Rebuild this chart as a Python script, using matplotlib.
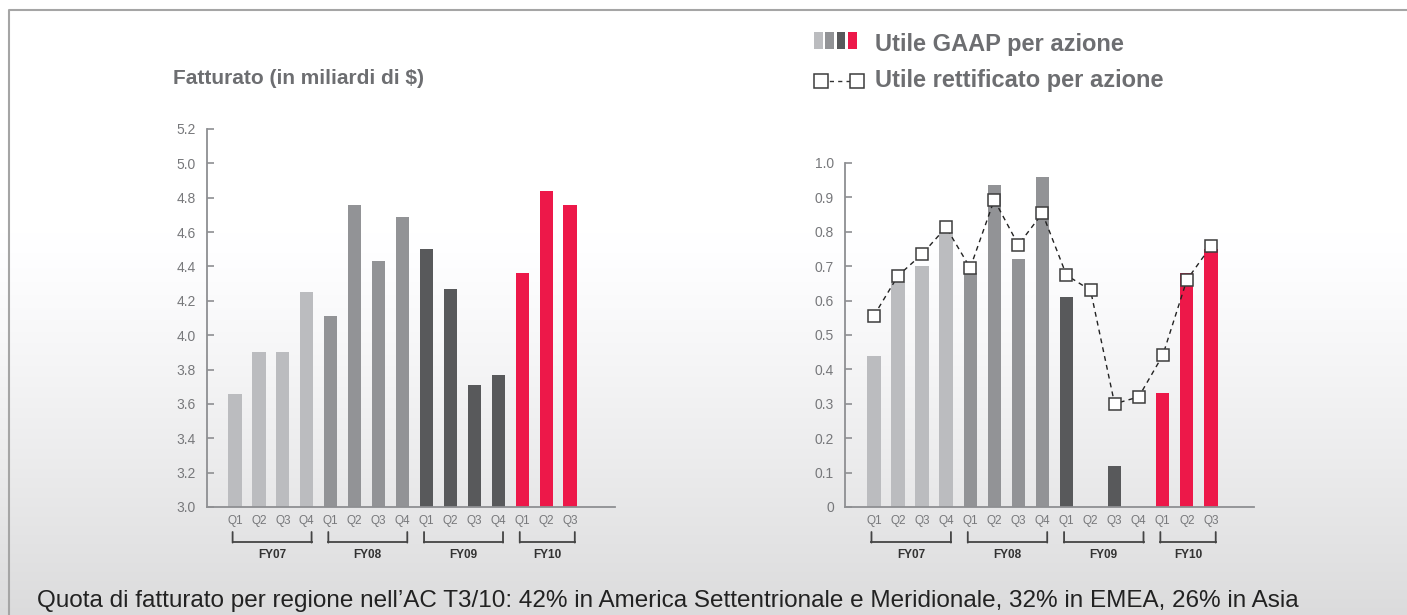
import numpy as np
import matplotlib
matplotlib.use("Agg")
import matplotlib.pyplot as plt
from matplotlib.patches import Rectangle
from matplotlib.lines import Line2D
from matplotlib.transforms import offset_copy

plt.rcParams['font.family'] = ['Liberation Sans', 'DejaVu Sans']

# quarterly data, FY07 Q1 .. FY10 Q3
quarters = ['Q1', 'Q2', 'Q3', 'Q4'] * 3 + ['Q1', 'Q2', 'Q3']
fiscal_years = ['FY07', 'FY08', 'FY09', 'FY10']
year_sizes = [4, 4, 4, 3]
year_colors = ['#bbbcbf', '#929396', '#58595b', '#ed1849']

revenue = [3.66, 3.90, 3.90, 4.25, 4.11, 4.76, 4.43, 4.69,
           4.50, 4.27, 3.71, 3.77, 4.36, 4.84, 4.76]
gaap_eps = [0.44, 0.655, 0.70, 0.80, 0.68, 0.935, 0.72, 0.96,
            0.61, None, 0.12, None, 0.33, 0.68, 0.75]
adjusted_eps = [0.556, 0.672, 0.735, 0.813, 0.695, 0.893, 0.762, 0.854,
                0.674, 0.630, 0.300, 0.320, 0.441, 0.660, 0.758]

revenue_title = "Fatturato (in miliardi di $)"
legend_gaap = "Utile GAAP per azione"
legend_adjusted = "Utile rettificato per azione"
footnote = ("Quota di fatturato per regione nell\u2019AC T3/10: 42% in America "
            "Settentrionale e Meridionale, 32% in EMEA, 26% in Asia")

W, H = 1407, 615
fig = plt.figure(figsize=(W / 100, H / 100), dpi=100)


def fx(x):
    return x / W


def fy(y):
    return 1 - y / H


# background: white fading to light grey towards the bottom
bg = fig.add_axes([0, 0, 1, 1], zorder=-10)
rows = np.linspace(0, 1, 400)
shade = np.clip((rows - 0.38) / 0.62, 0, 1) ** 1.2
col = 1.0 - 0.14 * shade
img = np.stack([col, col, np.clip(col * 1.004, 0, 1)], axis=-1)[:, None, :]
bg.imshow(img, aspect='auto', extent=[0, 1, 0, 1], origin='upper')
bg.set_axis_off()
fig.add_artist(Line2D([fx(9), fx(9), 1], [0, fy(10), fy(10)],
                      transform=fig.transFigure, color='#a5a5a5', lw=1.5))

bar_colors = []
for c, n in zip(year_colors, year_sizes):
    bar_colors += [c] * n
xpos = np.arange(len(quarters))


def below_axis(ax, dots):
    # x in data units, y a fixed pixel distance under the x axis
    return offset_copy(ax.get_xaxis_transform(), fig=fig, y=-dots, units='dots')


def style_axes(ax, xlim):
    ax.set_facecolor('none')
    ax.spines['top'].set_visible(False)
    ax.spines['right'].set_visible(False)
    for s in ('left', 'bottom'):
        ax.spines[s].set_color('#8e8f92')
        ax.spines[s].set_linewidth(1.3)
    ax.set_xlim(*xlim)
    ax.set_xticks(xpos)
    ax.set_xticklabels(quarters, fontsize=8.5, color='#77787b')
    ax.tick_params(axis='x', length=0, pad=6)
    ax.tick_params(axis='y', direction='in', length=5, width=1.2,
                   color='#8e8f92', labelsize=10, labelcolor='#77787b', pad=8)

    # fiscal year brackets under the quarter labels
    start = 0
    for label, n in zip(fiscal_years, year_sizes):
        x0, x1 = start - 0.1, start + n - 1 + 0.2
        ax.add_line(Line2D([x0, x1], [0, 0], clip_on=False, color='#444444',
                           lw=1.3, transform=below_axis(ax, 35)))
        for xe in (x0, x1):
            y_axis = ax.transAxes.transform((0, 0))[1]
            ax.annotate('', xy=(xe, y_axis - 35.6), xycoords=('data', 'figure pixels'),
                        xytext=(xe, y_axis - 25), textcoords=('data', 'figure pixels'),
                        arrowprops=dict(arrowstyle='-', color='#444444', lw=1.3,
                                        shrinkA=0, shrinkB=0))
        ax.text((x0 + x1) / 2, 0, label, ha='center', va='center',
                fontsize=8.5, fontweight='bold', color='#333333',
                transform=below_axis(ax, 48))
        start += n
    return ax


# ---- revenue chart ----
ax1 = fig.add_axes([fx(207), fy(507), fx(615 - 207), (507 - 129) / H])
ax1.bar(xpos, revenue, width=0.55, color=bar_colors)
ax1.set_ylim(3.0, 5.2)
yt = np.arange(3.0, 5.21, 0.2)
ax1.set_yticks(yt)
ax1.set_yticklabels([f"{v:.1f}" for v in yt])
style_axes(ax1, (-1.17, 15.88))
fig.text(fx(173), fy(79), revenue_title, fontsize=15, fontweight='bold',
         color='#6d6e71', va='center', ha='left')

# ---- earnings per share chart ----
ax2 = fig.add_axes([fx(845), fy(507), fx(1254 - 845), (507 - 163) / H])
gaap = np.array([np.nan if v is None else v for v in gaap_eps], dtype=float)
ax2.bar(xpos, np.nan_to_num(gaap), width=0.55, color=bar_colors)
ax2.plot(xpos, adjusted_eps, color='#222222', lw=1, ls=(0, (3.5, 3)),
         marker='s', markersize=9, markerfacecolor='white',
         markeredgecolor='#3c3c3c', markeredgewidth=1.1, zorder=3,
         clip_on=False)
ax2.set_ylim(0, 1.0)
yt2 = np.arange(0, 1.01, 0.1)
ax2.set_yticks(yt2)
ax2.set_yticklabels(['0'] + [f"{v:.1f}" for v in yt2[1:]])
style_axes(ax2, (-1.2, 15.79))

# legend
for i, c in enumerate(year_colors):
    fig.add_artist(Rectangle((fx(814 + i * 11.4), fy(49)), fx(8.6), 17 / H,
                             transform=fig.transFigure, color=c, lw=0))
fig.text(fx(875), fy(44), legend_gaap, fontsize=17, fontweight='bold',
         color='#6d6e71', va='center', ha='left')
fig.add_artist(Line2D([fx(821), fx(857)], [fy(81), fy(81)],
                      transform=fig.transFigure, color='#333333', lw=1,
                      ls=(0, (3, 3))))
for xm in (820.5, 857):
    fig.add_artist(Line2D([fx(xm)], [fy(81)], transform=fig.transFigure,
                          marker='s', markersize=9.5, markerfacecolor='white',
                          markeredgecolor='#3c3c3c', markeredgewidth=1.1))
fig.text(fx(875), fy(81), legend_adjusted, fontsize=17, fontweight='bold',
         color='#6d6e71', va='center', ha='left')

fig.text(fx(37), fy(607), footnote, fontsize=17.5, color='#222222',
         family=['Liberation Sans Narrow', 'Liberation Sans'],
         ha='left', va='baseline')

fig.savefig('out.png', dpi=100)
